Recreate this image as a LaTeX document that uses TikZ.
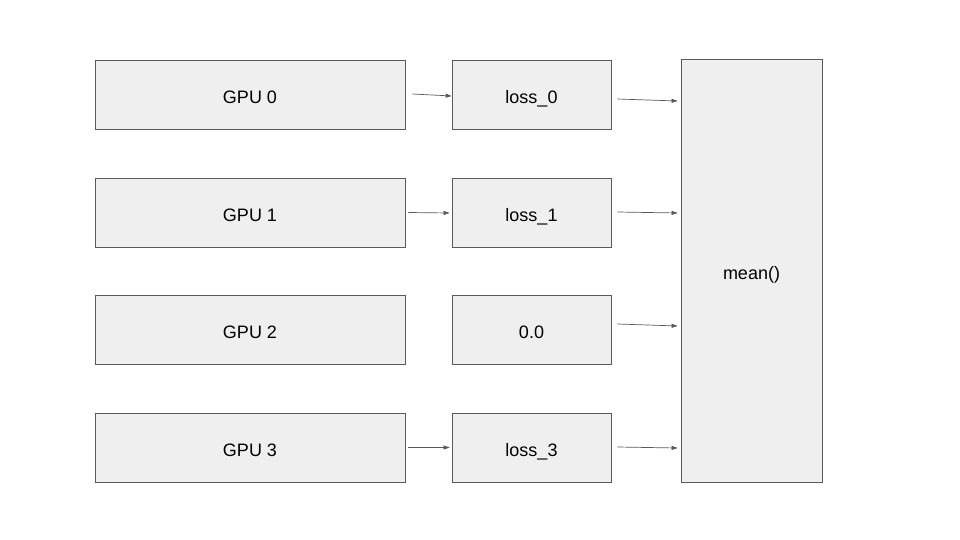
\documentclass[tikz,border=0pt]{standalone}
\usepackage{fontspec}
\setmainfont{Liberation Sans}
\usepackage{tikz}
\usetikzlibrary{arrows.meta, positioning, calc}
\usepackage{xcolor}
\definecolor{boxfill}{HTML}{EFEFEF}
\definecolor{boxline}{HTML}{5A5A5A}
\definecolor{arrowline}{HTML}{595959}

\begin{document}
\begin{tikzpicture}[
    x=1pt, y=1pt,
    font=\fontsize{18}{21}\selectfont,
    % Node styles
    gpu/.style={rectangle, draw=boxline, fill=boxfill, line width=0.8pt, minimum width=310pt, minimum height=69pt, inner sep=0pt, text height=17pt, text depth=0pt},
    loss/.style={rectangle, draw=boxline, fill=boxfill, line width=0.8pt, minimum width=159pt, minimum height=69pt, inner sep=0pt, text height=17pt, text depth=0pt},
    reduce/.style={rectangle, draw=boxline, fill=boxfill, line width=0.8pt, minimum width=141pt, minimum height=423pt, inner sep=0pt, text height=17pt, text depth=0pt},
    arrow/.style={-{Triangle[length=6pt, width=4pt]}, line width=0.7pt, color=arrowline},
]

% canvas
\useasboundingbox (0,0) rectangle (960,-540);

% ============================================================================
% GPU BOXES
% ============================================================================
\node[gpu] (gpu0) at (250, -95) {GPU 0};
\node[gpu] (gpu1) at (250, -212.5) {GPU 1};
\node[gpu] (gpu2) at (250, -330) {GPU 2};
\node[gpu] (gpu3) at (250, -447.5) {GPU 3};

% ============================================================================
% LOSS BOXES
% ============================================================================
\node[loss] (loss0) at (531.5, -95) {loss\_0};
\node[loss] (loss1) at (531.5, -212.5) {loss\_1};
\node[loss] (loss2) at (531.5, -330) {0.0};
\node[loss] (loss3) at (531.5, -447.5) {loss\_3};

% Mean box
\node[reduce] (mean) at (751.5, -270.5) {mean()};

% ============================================================================
% ARROWS
% ============================================================================
\draw[arrow] ([xshift=7pt, yshift=1pt]gpu0.east) -- ([yshift=-1pt]loss0.west);
\draw[arrow] ([xshift=3pt]gpu1.east) -- ([xshift=-2pt, yshift=-0.5pt]loss1.west);
\draw[arrow] ([xshift=3pt]gpu3.east) -- ([xshift=-2pt]loss3.west);

\foreach \i/\ya/\yb in {0/-4/-6, 1/0.5/-0.5, 2/6/4, 3/0.5/-0.5} {
    \draw[arrow] ([xshift=6pt, yshift=\ya pt]loss\i.east) -- ([xshift=-3pt, yshift=\yb pt]loss\i.east -| mean.west);
}

\end{tikzpicture}
\end{document}
